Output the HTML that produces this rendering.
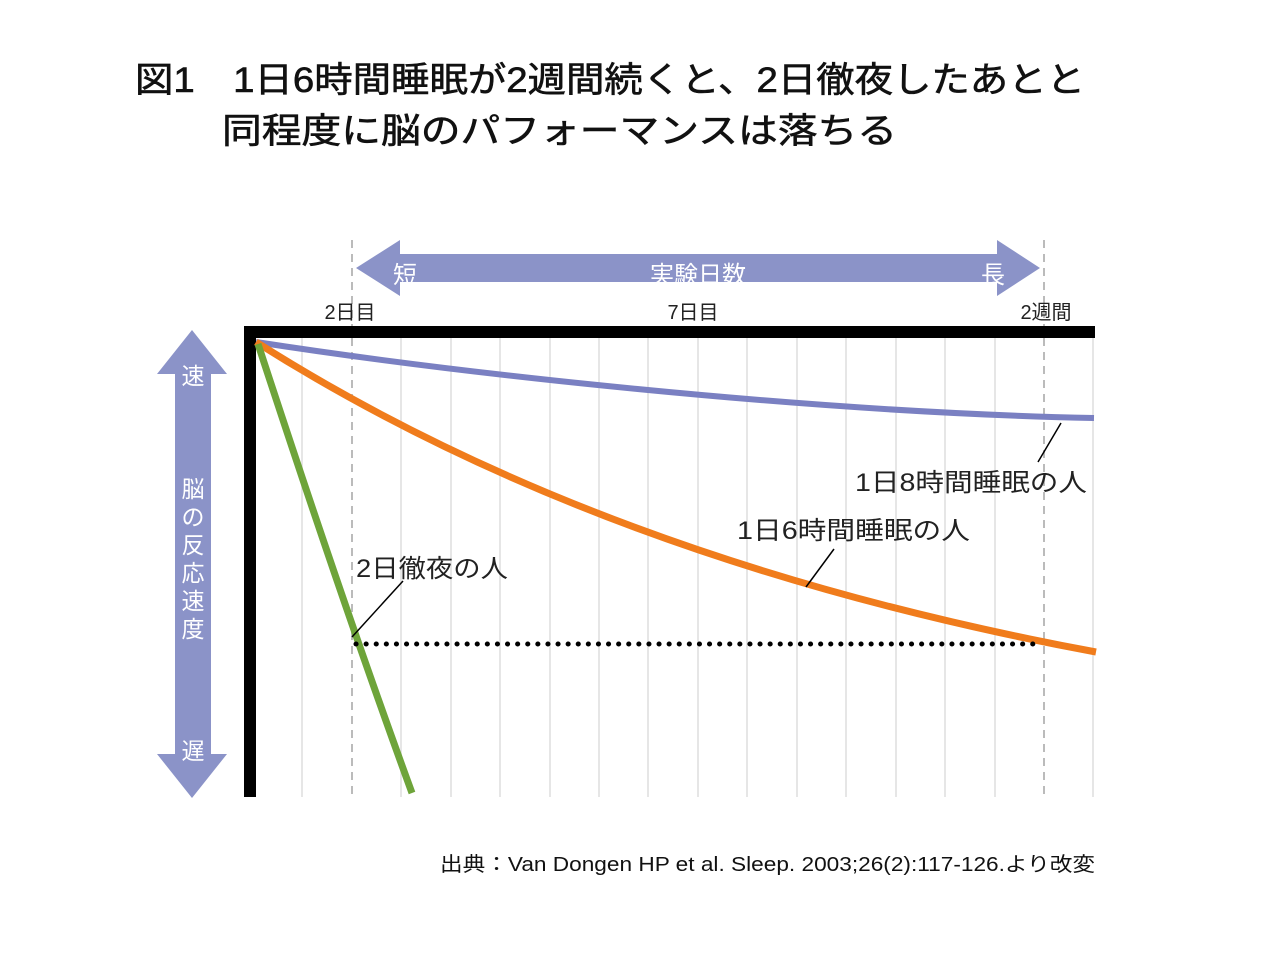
<!DOCTYPE html>
<html><head><meta charset="utf-8"><style>
body{margin:0;background:#fff;}
svg text{font-family:"Liberation Sans","Noto Sans CJK JP",sans-serif;}
</style></head><body>
<svg width="1280" height="960" viewBox="0 0 1280 960" xmlns="http://www.w3.org/2000/svg">
<rect width="1280" height="960" fill="#fff"/>
<text x="135" y="92" font-size="35" fill="#111" stroke="#111" stroke-width="0.6" textLength="950" lengthAdjust="spacingAndGlyphs">図1　1日6時間睡眠が2週間続くと、2日徹夜したあとと</text>
<text x="222" y="143" font-size="35" fill="#111" stroke="#111" stroke-width="0.6" textLength="675" lengthAdjust="spacingAndGlyphs">同程度に脳のパフォーマンスは落ちる</text>
<g stroke="#ddd" stroke-width="1.5">
<line x1="302" y1="338" x2="302" y2="797"/><line x1="401" y1="338" x2="401" y2="797"/>
<line x1="451" y1="338" x2="451" y2="797"/><line x1="500" y1="338" x2="500" y2="797"/>
<line x1="550" y1="338" x2="550" y2="797"/><line x1="599" y1="338" x2="599" y2="797"/>
<line x1="648" y1="338" x2="648" y2="797"/><line x1="698" y1="338" x2="698" y2="797"/>
<line x1="747" y1="338" x2="747" y2="797"/><line x1="797" y1="338" x2="797" y2="797"/>
<line x1="846" y1="338" x2="846" y2="797"/><line x1="896" y1="338" x2="896" y2="797"/>
<line x1="945" y1="338" x2="945" y2="797"/><line x1="995" y1="338" x2="995" y2="797"/>
<line x1="1093" y1="338" x2="1093" y2="797"/>
</g>
<g stroke="#bbb" stroke-width="2" stroke-dasharray="8,6">
<line x1="352" y1="240" x2="352" y2="797"/><line x1="1044" y1="240" x2="1044" y2="797"/>
</g>
<polygon points="356,268 400,240 400,254 997,254 997,240 1040,268 997,296 997,282 400,282 400,296" fill="#8b93c8"/>
<text x="405" y="283" font-size="24" fill="#fff" text-anchor="middle">短</text>
<text x="698" y="283" font-size="24" fill="#fff" text-anchor="middle">実験日数</text>
<text x="993" y="283" font-size="24" fill="#fff" text-anchor="middle">長</text>
<polygon points="192,330 227,374 211,374 211,754 227,754 192,798 157,754 175,754 175,374 157,374" fill="#8b93c8"/>
<g font-size="23" fill="#fff" text-anchor="middle">
<text x="193" y="384">速</text><text x="193" y="497">脳</text><text x="193" y="525">の</text>
<text x="193" y="553">反</text><text x="193" y="581">応</text><text x="193" y="609">速</text>
<text x="193" y="637">度</text><text x="193" y="759">遅</text>
</g>
<g font-size="20" fill="#222" text-anchor="middle">
<text x="350" y="319">2日目</text><text x="693" y="319">7日目</text><text x="1046" y="319">2週間</text>
</g>
<rect x="244" y="326" width="851" height="12" fill="#000"/>
<rect x="244" y="326" width="12" height="471" fill="#000"/>
<path d="M256,342 C450,372 800,412 1094,418" stroke="#7a80c2" stroke-width="6" fill="none"/>
<path d="M256,342 Q600,560 1096,652" stroke="#f07c1c" stroke-width="7" fill="none"/>
<path d="M258,344 Q345,610 412,793" stroke="#6ea43a" stroke-width="7" fill="none"/>
<line x1="356" y1="644" x2="1040" y2="644" stroke="#000" stroke-width="5" stroke-dasharray="0.1,10" stroke-linecap="round"/>
<g stroke="#000" stroke-width="1.5">
<line x1="352" y1="637" x2="403" y2="581"/>
<line x1="806" y1="587" x2="834" y2="549"/>
<line x1="1038" y1="462" x2="1061" y2="423"/>
</g>
<g font-size="25" fill="#222">
<text x="356" y="577" textLength="152" lengthAdjust="spacingAndGlyphs">2日徹夜の人</text>
<text x="737" y="539" textLength="233" lengthAdjust="spacingAndGlyphs">1日6時間睡眠の人</text>
<text x="855" y="491" textLength="232" lengthAdjust="spacingAndGlyphs">1日8時間睡眠の人</text>
</g>
<text x="440" y="871" font-size="20" fill="#111" textLength="655" lengthAdjust="spacingAndGlyphs">出典：Van Dongen HP et al. Sleep. 2003;26(2):117-126.より改変</text>
</svg>
</body></html>
